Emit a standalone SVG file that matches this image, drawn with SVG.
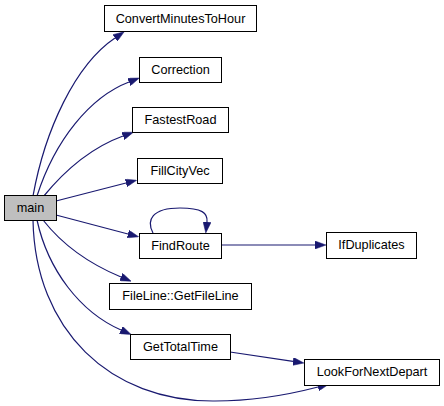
<svg xmlns="http://www.w3.org/2000/svg" width="444" height="406" viewBox="0 0 444 406">
<style>
.n rect{fill:#fff;stroke:#000;stroke-width:1}
.n text{font-family:"Liberation Sans",Arial,sans-serif;font-size:12.7px;fill:#000;text-anchor:middle}
#main rect{fill:#bfbfbf}
.e path{fill:none;stroke:#191970;stroke-width:1.2;marker-end:url(#ah)}
</style>
<defs>
<marker id="ah" viewBox="0 0 11 8" refX="0" refY="4" markerWidth="11" markerHeight="8" markerUnits="userSpaceOnUse" orient="auto">
<path d="M0,0 L11,4 L0,8 z" fill="#191970" stroke="#191970" stroke-width="0.5"/>
</marker>
</defs>
<rect width="444" height="406" fill="#fff"/>
<g class="e" id="edges">
<path d="M33,196 C45,130 75,65 115,38"/>
<path d="M37,196 C55,140 90,97 129,82"/>
<path d="M43,197 C65,170 90,148 123,136"/>
<path d="M56,201 L126,183"/>
<path d="M56,215 L128,234"/>
<path d="M153,233 C146,220 152,208 180,208 C202,208 208,213 207,222"/>
<path d="M221,245 L315,245"/>
<path d="M43,220 C65,248 92,265 121,277"/>
<path d="M37,220 C48,270 80,312 121,330"/>
<path d="M230,352 L293,361.4"/>
<path d="M33,220 C35,330 110,402 215,401 C260,401 295,393 318,387"/>
</g>
<g class="n" id="main"><rect x="4.5" y="195.5" width="52" height="25"/><text x="30.5" y="212">main</text></g>
<g class="n" id="ConvertMinutesToHour"><rect x="104.5" y="5.5" width="152" height="26"/><text x="180.5" y="22.5">ConvertMinutesToHour</text></g>
<g class="n" id="Correction"><rect x="139.5" y="57.5" width="82" height="25"/><text x="180.5" y="74">Correction</text></g>
<g class="n" id="FastestRoad"><rect x="132.5" y="107.5" width="96" height="25"/><text x="180.5" y="123.5">FastestRoad</text></g>
<g class="n" id="FillCityVec"><rect x="137.5" y="158.5" width="85" height="25"/><text x="180" y="174.5">FillCityVec</text></g>
<g class="n" id="FindRoute"><rect x="139.5" y="233.5" width="82" height="25"/><text x="180.5" y="249.5">FindRoute</text></g>
<g class="n" id="FileLine_GetFileLine"><rect x="109.5" y="283.5" width="142" height="26"/><text x="180.5" y="299.5">FileLine::GetFileLine</text></g>
<g class="n" id="GetTotalTime"><rect x="130.5" y="334.5" width="100" height="25"/><text x="180.5" y="350.5">GetTotalTime</text></g>
<g class="n" id="IfDuplicates"><rect x="326.5" y="232.5" width="90" height="26"/><text x="371.5" y="249">IfDuplicates</text></g>
<g class="n" id="LookForNextDepart"><rect x="304.5" y="359.5" width="135" height="26"/><text x="372" y="376">LookForNextDepart</text></g>
</svg>
